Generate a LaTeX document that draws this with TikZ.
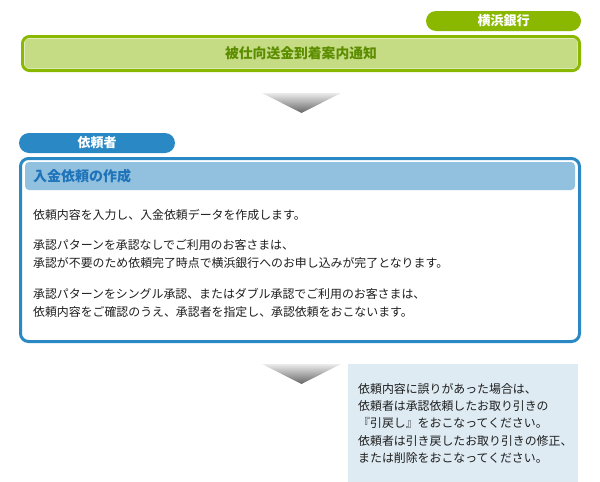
\documentclass[tikz,border=0pt]{standalone}
\usepackage{fontspec}
\newfontfamily\jp{Noto Sans CJK JP}
\usetikzlibrary{calc}
\definecolor{bankgreen}{RGB}{138,184,0}
\definecolor{greenfill}{RGB}{197,220,132}
\definecolor{greenink}{RGB}{92,140,0}
\definecolor{userblue}{RGB}{42,137,197}
\definecolor{headfill}{RGB}{146,193,224}
\definecolor{headink}{RGB}{30,115,185}
\definecolor{notefill}{RGB}{222,235,243}
\definecolor{bodyink}{RGB}{30,30,30}
\def\flowtri(#1){\shade[top color=black!8, bottom color=black!60] ($(#1)+(-39.5,0)$) -- ($(#1)+(39.5,0)$) -- ($(#1)+(0,20)$) -- cycle;}
\tikzset{
  pill/.style={rounded corners=10pt, minimum height=20pt, inner sep=0pt, text=white, font=\jp\bfseries\fontsize{13}{13}\selectfont},
  bodytext/.style={anchor=base west, inner sep=0pt, text=bodyink, font=\jp\fontsize{11.9}{14}\selectfont},
}
\begin{document}
\begin{tikzpicture}[x=1pt, y=-1pt]
			%%%%% START %%%%%
			\useasboundingbox (0, 0) rectangle (600, 482);
			
			% bank side
			\node[pill, fill=bankgreen, minimum width=155pt] (bank) at (503.5, 21) {横浜銀行};
			\node[draw=bankgreen, line width=3pt, fill=white, rounded corners=7pt, minimum width=557pt, minimum height=34pt, inner sep=0pt] (notice) at (301, 53.5) {};
			\fill[greenfill, rounded corners=4pt] ([xshift=3.5pt, yshift=-3.5pt]notice.north west) rectangle ([xshift=-3.5pt, yshift=3.5pt]notice.south east);
			\node[text=greenink, font=\jp\bfseries\fontsize{13.8}{14}\selectfont] (noticetext) at (notice) {被仕向送金到着案内通知};
			
			\flowtri(301.5, 93)
			
			% requester side
			\node[pill, fill=userblue, minimum width=156pt] (user) at (97, 143) {依頼者};
			\node[draw=userblue, line width=3pt, fill=white, rounded corners=8pt, minimum width=559pt, minimum height=183pt, inner sep=0pt] (request) at (300, 250) {};
			\node[fill=headfill, rounded corners=4pt, minimum width=550pt, minimum height=28pt, inner sep=0pt] (head) at (300, 176) {};
			\node[anchor=west, inner sep=0pt, text=headink, font=\jp\bfseries\fontsize{14}{14}\selectfont] (headtext) at (33, 176) {入金依頼の作成};
			
			\foreach \y/\t [count=\i] in {219.5/依頼内容を入力し、入金依頼データを作成します。,
				249.5/承認パターンを承認なしでご利用のお客さまは、,
				267.5/承認が不要のため依頼完了時点で横浜銀行へのお申し込みが完了となります。,
				298.5/承認パターンをシングル承認、またはダブル承認でご利用のお客さまは、,
				316.5/依頼内容をご確認のうえ、承認者を指定し、承認依頼をおこないます。}
				\node[bodytext] (body\i) at (33, \y) {\t};
			
			\flowtri(301.5, 364)
			
			% note
			\node[fill=notefill, anchor=north west, minimum width=230pt, minimum height=118pt, inner sep=0pt] (note) at (348, 364) {};
			\foreach \y/\t [count=\i] in {393.5/依頼内容に誤りがあった場合は、,
				410.7/依頼者は承認依頼したお取り引きの,
				427.9/『引戻し』をおこなってください。,
				445.1/依頼者は引き戻したお取り引きの修正、,
				462.3/または削除をおこなってください。}
				\node[bodytext] (note\i) at (358, \y) {\t};
			
			%%%%% END %%%%%
\end{tikzpicture}
\end{document}
